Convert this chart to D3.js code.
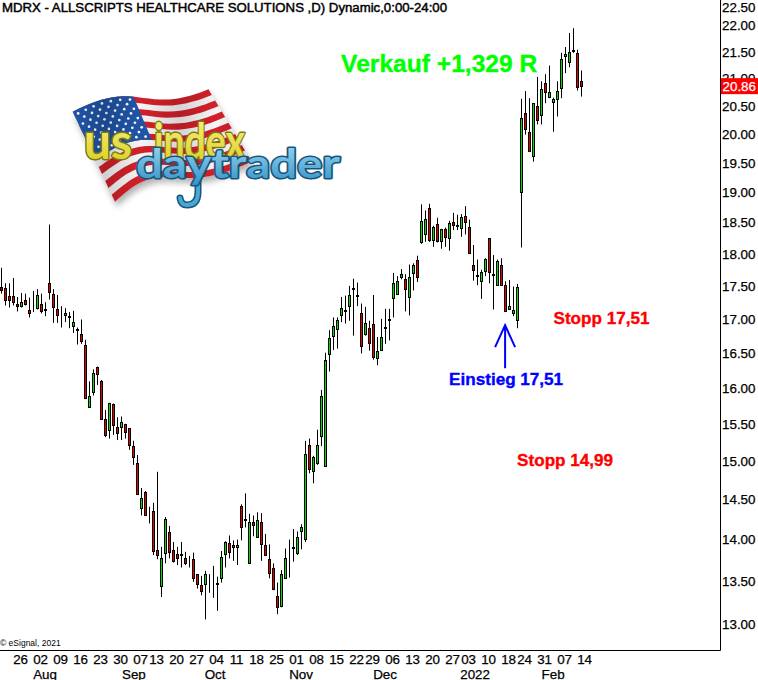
<!DOCTYPE html>
<html><head><meta charset="utf-8">
<script src="https://cdn.jsdelivr.net/npm/d3@7"></script>
<style>html,body{margin:0;padding:0;background:#fff;overflow:hidden}svg{display:block}</style>
</head><body><svg id="c" width="758" height="680"></svg>
<script>
const opens=[17.48,17.46,17.34,17.34,17.22,17.20,17.28,17.13,17.18,17.16,17.22,17.15,17.54,17.37,17.15,17.09,17.05,17.04,16.90,16.85,16.77,16.61,15.73,15.94,16.30,16.10,15.56,15.42,15.77,15.46,
15.46,15.50,15.44,15.20,14.97,14.39,14.60,14.36,14.35,13.87,13.44,13.84,14.09,13.87,13.82,13.82,13.77,13.78,13.76,13.58,13.45,13.46,13.54,13.52,13.47,13.53,13.82,13.96,13.93,13.91,
14.42,14.25,13.72,14.22,14.03,14.22,13.93,13.76,13.65,13.32,13.20,13.54,13.80,13.91,13.83,14.11,14.01,15.21,14.87,14.98,15.33,14.93,16.48,16.75,16.85,17.05,17.13,17.20,17.46,17.36,
17.09,16.78,16.86,16.92,16.42,16.54,16.88,16.99,17.31,17.38,17.63,17.60,17.33,17.70,17.90,18.19,18.31,18.74,18.22,18.48,18.21,18.39,18.26,18.51,18.46,18.42,18.61,18.43,17.82,17.67,
17.57,17.73,18.25,17.68,17.52,17.82,17.51,17.15,17.09,16.98,19.01,20.38,20.03,19.62,20.49,20.33,20.91,20.66,20.58,20.62,20.82,21.42,21.31,21.54,21.48,20.95];
const closes=[17.44,17.29,17.29,17.25,17.20,17.25,17.23,17.08,17.17,17.36,17.12,17.13,17.40,17.18,17.05,17.08,17.09,17.03,16.95,16.83,16.67,15.85,15.88,16.21,16.19,15.57,15.35,15.79,15.48,15.37,
15.52,15.39,15.21,15.05,14.57,14.52,14.31,14.35,13.86,13.81,13.78,14.25,13.85,13.74,13.78,13.81,13.71,13.77,13.53,13.46,13.38,13.58,13.53,13.52,13.46,13.79,13.97,13.85,13.91,13.93,
14.15,14.24,14.22,14.18,14.24,13.95,13.81,13.59,13.40,13.19,13.58,13.78,13.80,13.90,14.03,14.15,15.09,14.90,15.05,15.21,15.88,16.40,16.72,16.89,16.98,17.16,17.11,17.36,17.45,17.34,
16.60,16.94,16.64,16.44,16.52,16.73,16.86,16.98,17.54,17.57,17.68,17.45,17.64,17.83,17.63,18.53,18.56,18.22,18.43,18.21,18.39,18.27,18.50,18.46,18.45,18.59,18.51,18.02,17.75,17.65,
17.71,17.92,17.71,17.67,17.89,17.52,17.11,17.20,17.13,17.48,20.28,20.08,19.70,20.55,20.24,20.80,20.75,20.75,20.62,20.78,21.37,21.46,21.50,21.51,20.85,20.86];
const highs=[17.78,17.54,17.54,17.62,17.33,17.39,17.38,17.32,17.42,17.45,17.38,17.25,18.47,17.45,17.36,17.19,17.16,17.10,17.12,16.87,16.99,16.69,16.09,16.26,16.30,16.11,15.69,15.79,15.78,15.59,
15.60,15.50,15.44,15.27,15.08,14.65,14.61,14.41,14.46,14.86,13.91,14.28,14.17,13.97,13.91,13.97,13.85,13.80,13.84,13.58,13.56,13.62,13.58,13.68,13.55,13.86,13.98,14.05,13.99,14.00,
14.44,14.58,14.32,14.30,14.34,14.33,14.07,13.94,13.71,13.48,13.63,13.89,14.00,14.13,14.10,14.19,15.27,15.30,15.07,15.42,15.97,16.50,16.83,17.02,17.02,17.33,17.35,17.50,17.61,17.55,
17.23,17.18,16.97,17.36,16.73,17.00,17.15,17.15,17.70,17.65,17.76,17.68,17.83,17.85,17.97,18.80,18.70,18.81,18.45,18.58,18.40,18.42,18.53,18.66,18.63,18.64,18.77,18.55,18.14,17.91,
17.75,17.93,18.25,17.98,17.91,17.93,17.57,17.59,17.49,17.53,20.63,20.77,20.64,20.55,21.03,20.95,21.08,21.24,20.65,20.95,21.48,21.59,21.86,21.95,21.54,21.15];
const lows=[17.38,17.20,17.17,17.20,17.11,17.17,17.20,17.02,17.10,17.14,17.08,17.04,17.29,16.94,16.94,16.87,16.95,16.86,16.79,16.62,16.63,15.84,15.73,15.89,16.04,15.57,15.32,15.30,15.35,15.28,
15.28,15.30,15.15,14.95,14.56,14.30,14.30,14.20,13.81,13.76,13.31,13.71,13.77,13.72,13.69,13.66,13.69,13.66,13.49,13.41,13.33,13.05,13.36,13.30,13.15,13.48,13.66,13.77,13.74,13.69,
13.99,14.15,13.71,14.04,14.03,13.74,13.80,13.53,13.39,13.11,13.19,13.54,13.54,13.73,13.81,13.88,13.97,14.84,14.71,14.95,15.20,14.93,16.23,16.54,16.56,16.95,16.93,16.97,16.75,17.19,
16.49,16.75,16.53,16.40,16.32,16.53,16.63,16.68,17.02,17.36,17.60,17.11,17.05,17.43,17.56,18.16,18.19,18.19,18.11,18.18,18.08,18.11,18.05,18.38,18.38,18.27,18.31,18.01,17.58,17.51,
17.30,17.65,17.54,17.14,17.51,17.51,17.11,17.14,17.04,16.86,18.10,19.99,19.70,19.52,20.17,20.17,20.55,20.64,20.04,20.31,20.64,21.10,21.21,21.48,20.78,20.67];

const dayTickBars=[4,9,14,19,24,29,34,38,43,48,53,58,63,68,73,78,83,88,92,97,102,107,112,116,121,126,130,135,140,145];
const dayTickLabels=["26","02","09","16","23","30","07","13","20","27","04","11","18","25","01","08","15","22","29","06","13","20","27","03","10","18","24","31","07","14"];
const monthLabels=["Aug","Sep","Oct","Nov","Dec","2022","Feb"];
const monthBars=[10.9,33.1,53.4,74.9,95.9,118.4,137.9];
const priceTicks=[13,13.5,14,14.5,15,15.5,16,16.5,17,17.5,18,18.5,19,19.5,20,20.5,21,21.5,22,22.5];
const lastPrice=20.86;
const titleText="MDRX - ALLSCRIPTS HEALTHCARE SOLUTIONS ,D) Dynamic,0:00-24:00";
const notes=[
 {t:"Verkauf +1,329 R",c:"#00ff00",p:21.12,i:84.9,s:24.6},
 {t:"Stopp 17,51",c:"#ff0000",p:16.92,i:138.0,s:17.1},
 {t:"Einstieg 17,51",c:"#0000ff",p:16.04,i:111.9,s:17.1},
 {t:"Stopp 14,99",c:"#ff0000",p:14.94,i:128.9,s:17.1}
];

const FONT="'Liberation Sans',Arial,sans-serif";
const svg=d3.select("#c");
const n=opens.length;
const x=d3.scaleLinear().domain([0,n-1]).range([1.5,581.5]);
const y=d3.scaleLog().domain([12.704,22.502]).range([650,0]);
const axisX=720.5, axisY=650.5;

/* ---------- logo ---------- */
const logo=svg.append("g").attr("class","logo");
const defs=svg.append("defs");
const sh=defs.append("filter").attr("id","shadow").attr("x","-20%").attr("y","-20%").attr("width","140%").attr("height","140%");
sh.append("feGaussianBlur").attr("stdDeviation",3);
const lg=defs.append("linearGradient").attr("id","sheen").attr("x1",0).attr("x2",1).attr("y1",0).attr("y2",0);
[[0,0.0],[.18,.28],[.38,0],[.6,.25],[.8,0],[1,.2]].forEach(d=>lg.append("stop").attr("offset",d[0]).attr("stop-color","#000").attr("stop-opacity",d[1]));
function vgrad(id,a,b){const g=defs.append("linearGradient").attr("id",id).attr("x1",0).attr("x2",0).attr("y1",0).attr("y2",1);
  g.append("stop").attr("offset",0).attr("stop-color",a);g.append("stop").attr("offset",1).attr("stop-color",b);}
vgrad("yel","#fbf58a","#d9ca1e");vgrad("blu","#a5dcf3","#2f8fc6");
const topX=d3.interpolateBasis([72.7,96.7,126.7,160,190,208.5]);
const topY=d3.interpolateBasis([111.7,100,94,101.7,96.7,89.3]);
const botX=d3.interpolateBasis([115,136,160,193,226,251.7]);
const botY=d3.interpolateBasis([201.7,183,175,180,173,161.7]);
function P(u,t){const a=[topX(u),topY(u)],b=[botX(u),botY(u)];return [a[0]+(b[0]-a[0])*t,a[1]+(b[1]-a[1])*t];}
function patch(u0,u1,t0,t1){const pts=[];const N=30;
  for(let k=0;k<=N;k++)pts.push(P(u0+(u1-u0)*k/N,t0));
  for(let k=N;k>=0;k--)pts.push(P(u0+(u1-u0)*k/N,t1));
  return "M"+pts.map(p=>p[0].toFixed(1)+","+p[1].toFixed(1)).join("L")+"Z";}
logo.append("path").attr("d",patch(0,1,0,1)).attr("fill","#555").attr("opacity",.45).attr("transform","translate(2,5)").attr("filter","url(#shadow)");
logo.append("path").attr("d",patch(0,1,0,1)).attr("fill","#f5f5f5");
d3.range(13).forEach(k=>{if(k%2==0)logo.append("path").attr("d",patch(0,1,k/13,(k+1)/13)).attr("fill","#d3202a");});
logo.append("path").attr("d",patch(0,.44,0,7/13)).attr("fill","#1f55a8");
d3.range(9).forEach(r=>d3.range(r%2?6:7).forEach(c=>{
  const p=P((c+(r%2?1:.5))/7*.44,(r+.7)/9.4*7/13);
  logo.append("circle").attr("cx",p[0]).attr("cy",p[1]).attr("r",1.35).attr("fill","#fff");}));
logo.append("path").attr("d",patch(0,1,0,1)).attr("fill","url(#sheen)").attr("opacity",.55);
function blob(txt,px,py,len,size,outer,fill){
  logo.append("text").attr("x",px).attr("y",py).attr("textLength",len).attr("lengthAdjust","spacingAndGlyphs")
    .attr("font-family","Lato,'Liberation Sans',sans-serif").attr("font-weight",700).attr("font-size",size)
    .attr("stroke-linejoin","round").attr("paint-order","stroke").attr("stroke",outer).attr("stroke-width",3).attr("fill",fill).text(txt);
}
blob("us",84,159,48,50,"#7d7a10","url(#yel)");
blob("index",154,159,91,50,"#7d7a10","url(#yel)");
const jPath="M198,172L198,192Q198,205 187,205Q181,205 180,198";
[["#17567c",7],["#4aa6d3",4]].forEach(([col,w])=>logo.append("path").attr("d",jPath).attr("fill","none").attr("stroke",col).attr("stroke-width",w).attr("stroke-linecap","round"));
blob("daytrader",136,178,204,40,"#17567c","url(#blu)");

/* ---------- axes ---------- */
const yAxis=d3.axisRight(y).tickValues(priceTicks).tickSize(0).tickPadding(0).tickFormat(d=>d.toFixed(2));
const gy=svg.append("g").attr("transform",`translate(${axisX},0)`).call(yAxis);
gy.select(".domain").remove();
gy.selectAll(".tick").attr("transform",d=>`translate(0,${Math.max(7,y(d))})`);
gy.selectAll("text").attr("x",1.5).attr("dy",".36em").attr("font-family",FONT).attr("font-size",13.4).attr("fill","#000").attr("stroke","#000").attr("stroke-width",.25).attr("text-anchor","start");

const xAxis=d3.axisBottom(x).tickValues(dayTickBars).tickSize(0).tickPadding(0).tickFormat((d,i)=>dayTickLabels[i]);
const gx=svg.append("g").attr("transform",`translate(0,${axisY})`).call(xAxis);
gx.select(".domain").remove();
gx.selectAll("text").attr("x",2.6).attr("y",13.5).attr("dy",0).attr("font-family",FONT).attr("font-size",13.4).attr("fill","#000").attr("stroke","#000").attr("stroke-width",.25);

svg.append("g").selectAll("text").data(monthLabels).join("text").attr("x",(d,i)=>x(monthBars[i])).attr("y",679).attr("text-anchor","middle")
 .attr("font-family",FONT).attr("font-size",13.4).attr("fill","#000").attr("stroke","#000").attr("stroke-width",.25).text(d=>d);

svg.append("line").attr("x1",0).attr("x2",axisX).attr("y1",axisY).attr("y2",axisY).attr("stroke","#000");
svg.append("line").attr("x1",axisX).attr("x2",axisX).attr("y1",0).attr("y2",axisY).attr("stroke","#000");

/* ---------- candles ---------- */
const idx=d3.range(n);
const crisp=v=>Math.round(v)+.5;
const gc=svg.append("g");
gc.selectAll("line").data(idx).join("line").attr("x1",i=>x(i)).attr("x2",i=>x(i))
  .attr("y1",i=>y(highs[i])).attr("y2",i=>y(lows[i])).attr("stroke","#000").attr("stroke-width",1);
gc.selectAll("rect").data(idx).join("rect")
  .attr("x",i=>x(i)-1).attr("width",2)
  .attr("y",i=>crisp(y(Math.max(opens[i],closes[i]))))
  .attr("height",i=>Math.max(0,crisp(y(Math.min(opens[i],closes[i])))-crisp(y(Math.max(opens[i],closes[i])))))
  .attr("fill",i=>closes[i]>opens[i]?"#00e000":"#e80000").attr("stroke","#000").attr("stroke-width",1);

/* ---------- text ---------- */
svg.append("text").attr("x",2).attr("y",11.5).attr("font-family",FONT).attr("font-size",13).attr("fill","#000").attr("stroke","#000").attr("stroke-width",.45)
  .attr("textLength",445).attr("lengthAdjust","spacingAndGlyphs").text(titleText);
svg.append("text").attr("x",0).attr("y",646).attr("font-family",FONT).attr("font-size",8.5).attr("fill","#000").text("\u00a9 eSignal, 2021");
svg.append("g").selectAll("text").data(notes).join("text").attr("x",d=>x(d.i)).attr("y",d=>y(d.p))
  .attr("font-family",FONT).attr("font-weight",700).attr("font-size",d=>d.s).attr("fill",d=>d.c).attr("stroke",d=>d.c).attr("stroke-width",.35).text(d=>d.t);

/* entry arrow */
const tipY=y(17.51)+40;
const ax=x(125.9);
svg.append("path").attr("d",`M${ax},${tipY+43}L${ax},${tipY}M${ax-10},${tipY+22}L${ax},${tipY}L${ax+10},${tipY+22}`)
  .attr("fill","none").attr("stroke","#0000ff").attr("stroke-width",2);

/* last price tag */
svg.append("rect").attr("x",721).attr("y",y(lastPrice)-8).attr("width",37).attr("height",16).attr("fill","#ff0000");
svg.append("text").attr("x",722.5).attr("y",y(lastPrice)+.36*13.4).attr("font-family",FONT).attr("font-size",13.4).attr("fill","#fff").attr("stroke","#fff").attr("stroke-width",.25).text(lastPrice.toFixed(2));
</script></body></html>
